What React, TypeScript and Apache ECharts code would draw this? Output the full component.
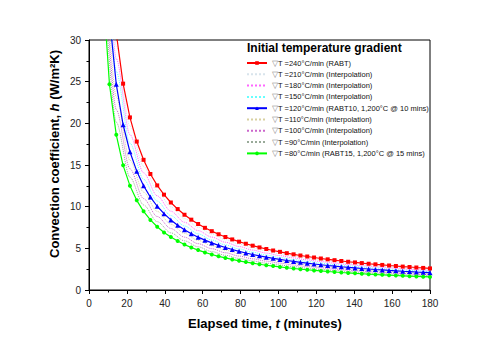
import React, { useEffect, useRef } from "react";
import * as echarts from "echarts";

const tMain = [3.6, 7.2, 10.8, 14.4, 18, 21.6, 25.2, 28.8, 32.4, 36, 39.6, 43.2, 46.8, 50.4, 54, 57.6, 61.2, 64.8, 68.4, 72, 75.6, 79.2, 82.8, 86.4, 90, 93.6, 97.2, 100.8, 104.4, 108, 111.6, 115.2, 118.8, 122.4, 126, 129.6, 133.2, 136.8, 140.4, 144, 147.6, 151.2, 154.8, 158.4, 162, 165.6, 169.2, 172.8, 176.4, 180];

const tInterp = [7.2, 14.4, 21.6, 28.8, 36, 43.2, 50.4, 57.6, 64.8, 72, 79.2, 86.4, 93.6, 100.8, 108, 115.2, 122.4, 129.6, 136.8, 144, 151.2, 158.4, 165.6, 172.8, 180];

const h240 = [119.9, 60.78, 40.86, 30.81, 24.76, 20.71, 17.81, 15.62, 13.92, 12.55, 11.44, 10.5, 9.71, 9.03, 8.44, 7.92, 7.46, 7.06, 6.69, 6.36, 6.07, 5.8, 5.55, 5.32, 5.11, 4.92, 4.74, 4.58, 4.42, 4.28, 4.14, 4.02, 3.9, 3.78, 3.68, 3.58, 3.48, 3.39, 3.31, 3.23, 3.15, 3.08, 3.01, 2.94, 2.88, 2.81, 2.76, 2.7, 2.65, 2.59];
const h120 = [96.0, 48.67, 32.72, 24.68, 19.83, 16.59, 14.26, 12.51, 11.15, 10.05, 9.16, 8.41, 7.78, 7.23, 6.76, 6.34, 5.98, 5.65, 5.36, 5.1, 4.86, 4.64, 4.44, 4.26, 4.1, 3.94, 3.8, 3.67, 3.54, 3.43, 3.32, 3.22, 3.12, 3.03, 2.94, 2.87, 2.79, 2.72, 2.65, 2.58, 2.52, 2.46, 2.41, 2.35, 2.3, 2.25, 2.21, 2.16, 2.12, 2.08];
const h80 = [72.4, 36.72, 24.69, 18.62, 14.96, 12.52, 10.76, 9.44, 8.41, 7.59, 6.91, 6.35, 5.87, 5.45, 5.1, 4.79, 4.51, 4.26, 4.04, 3.85, 3.67, 3.5, 3.35, 3.22, 3.09, 2.97, 2.87, 2.77, 2.67, 2.58, 2.5, 2.43, 2.35, 2.29, 2.22, 2.16, 2.1, 2.05, 2.0, 1.95, 1.9, 1.86, 1.82, 1.78, 1.74, 1.7, 1.66, 1.63, 1.6, 1.57];

const h210 = [57.74, 29.28, 19.68, 14.84, 11.93, 9.98, 8.58, 7.53, 6.71, 6.05, 5.51, 5.06, 4.68, 4.35, 4.06, 3.81, 3.59, 3.4, 3.22, 3.07, 2.92, 2.79, 2.67, 2.56, 2.46];
const h180 = [54.72, 27.74, 18.65, 14.07, 11.3, 9.46, 8.13, 7.13, 6.35, 5.73, 5.22, 4.79, 4.43, 4.12, 3.85, 3.62, 3.41, 3.22, 3.06, 2.91, 2.77, 2.65, 2.53, 2.43, 2.33];
const h150 = [51.7, 26.21, 17.62, 13.29, 10.68, 8.93, 7.68, 6.74, 6.0, 5.41, 4.93, 4.53, 4.19, 3.89, 3.64, 3.42, 3.22, 3.04, 2.89, 2.75, 2.62, 2.5, 2.39, 2.3, 2.21];
const h110 = [45.68, 23.16, 15.57, 11.74, 9.44, 7.89, 6.79, 5.95, 5.3, 4.78, 4.36, 4.0, 3.7, 3.44, 3.22, 3.02, 2.84, 2.69, 2.55, 2.43, 2.31, 2.21, 2.11, 2.03, 1.95];
const h100 = [42.69, 21.64, 14.55, 10.97, 8.82, 7.38, 6.34, 5.56, 4.96, 4.47, 4.07, 3.74, 3.46, 3.22, 3.0, 2.82, 2.66, 2.51, 2.38, 2.27, 2.16, 2.06, 1.98, 1.9, 1.82];
const h90 = [39.71, 20.13, 13.53, 10.21, 8.2, 6.86, 5.9, 5.18, 4.61, 4.16, 3.79, 3.48, 3.22, 2.99, 2.8, 2.62, 2.47, 2.34, 2.22, 2.11, 2.01, 1.92, 1.84, 1.76, 1.69];

const seriesNames = [
  "▽T =240°C/min (RABT)",
  "▽T =210°C/min (Interpolation)",
  "▽T =180°C/min (Interpolation)",
  "▽T =150°C/min (Interpolation)",
  "▽T =120°C/min (RABT10, 1,200°C @ 10 mins)",
  "▽T =110°C/min (Interpolation)",
  "▽T =100°C/min (Interpolation)",
  "▽T =90°C/min (Interpolation)",
  "▽T =80°C/min (RABT15, 1,200°C @ 15 mins)",
];
const interpIdx = [1, 2, 3, 5, 6, 7];

const FONT = "'Liberation Sans', Arial, sans-serif";

function zip(xs: number[], ys: number[]) {
  return xs.map((x, i) => [x, ys[i]]);
}

function mainSeries(name: string, ys: number[], color: string, symbol: string, size: number) {
  return {
    type: "line",
    name,
    data: zip(tMain, ys),
    symbol,
    symbolSize: size,
    showSymbol: true,
    clip: true,
    z: 5,
    lineStyle: { color, width: 1.2 },
    itemStyle: { color },
  };
}

function interpSeries(name: string, ys: number[], color: string) {
  return {
    type: "line",
    name,
    data: zip(tInterp, ys),
    symbol: "none",
    smooth: 0.3,
    smoothMonotone: "x",
    clip: true,
    z: 3,
    lineStyle: { color, width: 1, type: "dotted" },
    itemStyle: { color },
  };
}

export default function App() {
  const ref = useRef<HTMLDivElement>(null);
  useEffect(() => {
    document.body.style.margin = "0";
    if (!ref.current) return;
    const chart = echarts.init(ref.current, undefined, { renderer: "svg" });
    chart.setOption({
      animation: false,
      backgroundColor: "#fff",
      grid: {
        left: 89,
        right: 70,
        top: 40,
        bottom: 58,
        show: true,
        borderColor: "#000",
        borderWidth: 1,
        containLabel: false,
      },
      xAxis: {
        type: "value",
        min: 0,
        max: 180,
        interval: 20,
        axisLine: { lineStyle: { color: "#000", width: 1 } },
        axisTick: { show: true, length: 4, lineStyle: { color: "#000" } },
        minorTick: { show: true, splitNumber: 2, length: 2.5, lineStyle: { color: "#000" } },
        splitLine: { show: false },
        axisLabel: { fontSize: 10, color: "#222", fontFamily: FONT, margin: 8 },
      },
      yAxis: {
        type: "value",
        min: 0,
        max: 30,
        interval: 5,
        axisLine: { show: true, lineStyle: { color: "#000", width: 1 } },
        axisTick: { show: true, length: 4, lineStyle: { color: "#000" } },
        minorTick: { show: true, splitNumber: 2, length: 2.5, lineStyle: { color: "#000" } },
        splitLine: { show: false },
        axisLabel: { fontSize: 10, color: "#222", fontFamily: FONT, margin: 8 },
      },
      legend: {
        orient: "vertical",
        left: 246,
        top: 59,
        padding: 0,
        itemWidth: 20,
        itemHeight: 4.5,
        itemGap: 3.3,
        data: seriesNames.map((n, i) =>
          interpIdx.indexOf(i) >= 0
            ? { name: n, itemStyle: { color: "rgba(0,0,0,0)", borderWidth: 0 } }
            : { name: n }
        ),
        formatter: (name: string) => name.replace("▽", "{g|▽}"),
        textStyle: {
          fontSize: 7.5,
          color: "#111",
          fontFamily: FONT,
          lineHeight: 8,
          rich: { g: { color: "#888", fontSize: 7.5, fontFamily: FONT, lineHeight: 8 } },
        },
      },
      graphic: [
        {
          type: "text",
          left: 247,
          top: 42,
          style: {
            text: "Initial temperature gradient",
            font: `bold 12px ${FONT}`,
            fill: "#000",
          },
        },
        {
          type: "text",
          x: 265,
          y: 323,
          style: {
            text: "{b|Elapsed time, }{bi|t}{b| (minutes)}",
            align: "center",
            verticalAlign: "middle",
            rich: {
              b: { fontSize: 13, fontWeight: "bold", fontFamily: FONT, fill: "#000" },
              bi: { fontSize: 13, fontWeight: "bold", fontStyle: "italic", fontFamily: FONT, fill: "#000" },
            },
          },
        },
        {
          type: "text",
          x: 54,
          y: 154,
          rotation: Math.PI / 2,
          style: {
            text: "{b|Convection coefficient, }{bi|h}{b| (W/m²K)}",
            align: "center",
            verticalAlign: "middle",
            rich: {
              b: { fontSize: 13, fontWeight: "bold", fontFamily: FONT, fill: "#000" },
              bi: { fontSize: 13, fontWeight: "bold", fontStyle: "italic", fontFamily: FONT, fill: "#000" },
            },
          },
        },
      ],
      series: [
        mainSeries(seriesNames[0], h240, "#ff0000", "rect", 4),
        interpSeries(seriesNames[1], h210, "#d8e4ec"),
        interpSeries(seriesNames[2], h180, "#ff66ff"),
        interpSeries(seriesNames[3], h150, "#66ffff"),
        mainSeries(seriesNames[4], h120, "#0000ff", "triangle", 5),
        interpSeries(seriesNames[5], h110, "#d8d0a0"),
        interpSeries(seriesNames[6], h100, "#cc66cc"),
        interpSeries(seriesNames[7], h90, "#99aa99"),
        mainSeries(seriesNames[8], h80, "#00ff00", "circle", 4),
      ],
    });
    return () => chart.dispose();
  }, []);
  return <div ref={ref} style={{ width: 500, height: 348 }} />;
}
